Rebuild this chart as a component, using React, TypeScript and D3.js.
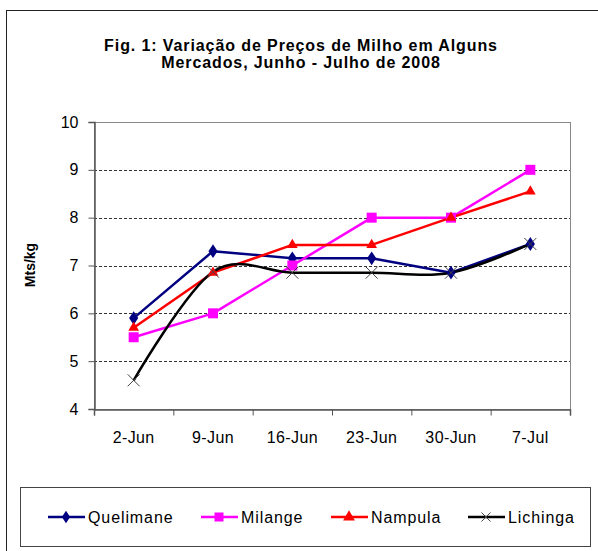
import { useRef, useEffect } from "react";
import * as d3 from "d3";

const categories = ["2-Jun", "9-Jun", "16-Jun", "23-Jun", "30-Jun", "7-Jul"];
const quelimane = [5.9, 7.3, 7.15, 7.15, 6.85, 7.45];
const milange = [5.5, 6.0, 7.0, 8.0, 8.0, 9.0];
const nampula = [5.7, 6.85, 7.43, 7.43, 8.0, 8.55];
const lichinga = [4.6, 6.87, 6.85, 6.85, 6.85, 7.45];
const yTicks = [4, 5, 6, 7, 8, 9, 10];

interface Series {
  name: string;
  values: number[];
  color: string;
  marker: "diamond" | "square" | "triangle" | "x";
  smooth?: boolean;
}

const series: Series[] = [
  { name: "Quelimane", values: quelimane, color: "#000080", marker: "diamond" },
  { name: "Milange", values: milange, color: "#ff00ff", marker: "square" },
  { name: "Nampula", values: nampula, color: "#ff0000", marker: "triangle" },
  { name: "Lichinga", values: lichinga, color: "#000000", marker: "x", smooth: true },
];

const W = 598;
const H = 551;
const font = "'Liberation Sans', Arial, sans-serif";

const drawMarker = (
  g: d3.Selection<SVGGElement, unknown, null, undefined>,
  kind: Series["marker"],
  x: number,
  y: number,
  color: string,
  size: number
) => {
  if (kind === "diamond") {
    g.append("path")
      .attr("d", d3.symbol(d3.symbolDiamond, size * size * 0.55)())
      .attr("transform", `translate(${x},${y}) scale(1.15,1)`)
      .attr("fill", color);
  } else if (kind === "square") {
    g.append("rect")
      .attr("x", x - size / 2)
      .attr("y", y - size / 2)
      .attr("width", size)
      .attr("height", size)
      .attr("fill", color);
  } else if (kind === "triangle") {
    g.append("path")
      .attr("d", d3.symbol(d3.symbolTriangle, size * size * 0.5)())
      .attr("transform", `translate(${x},${y})`)
      .attr("fill", color);
  } else {
    const r = size / 2;
    g.append("path")
      .attr("d", `M${x - r},${y - r}L${x + r},${y + r}M${x - r},${y + r}L${x + r},${y - r}`)
      .attr("stroke", "#444")
      .attr("stroke-width", 1)
      .attr("fill", "none");
  }
};

export default function App() {
  const svgRef = useRef<SVGSVGElement>(null);

  useEffect(() => {
    const svg = d3.select(svgRef.current);
    svg.selectAll("*").remove();

    const left = 94;
    const right = 570;
    const top = 122;
    const bottom = 409;

    const x = d3.scaleBand<string>().domain(categories).range([left, right]);
    const y = d3.scaleLinear().domain([4, 10]).range([bottom, top]);

    svg.append("rect").attr("width", W).attr("height", H).attr("fill", "#fff");

    // outer chart frame (right and bottom edges fall outside the picture)
    svg
      .append("rect")
      .attr("x", 6.5)
      .attr("y", 10.5)
      .attr("width", 620)
      .attr("height", 600)
      .attr("fill", "none")
      .attr("stroke", "#222")
      .attr("stroke-width", 1);

    // title
    const title = svg
      .append("text")
      .attr("text-anchor", "middle")
      .attr("font-family", font)
      .attr("font-weight", "bold")
      .attr("font-size", 16)
      .attr("letter-spacing", 0.9)
      .attr("fill", "#000");
    title.append("tspan").attr("x", 301).attr("y", 51).text("Fig. 1: Variação de Preços de Milho em Alguns");
    title.append("tspan").attr("x", 301).attr("y", 68).text("Mercados, Junho - Julho de 2008");

    // grid lines
    svg
      .append("g")
      .selectAll("line")
      .data(yTicks.filter((t) => t > 4 && t < 10))
      .join("line")
      .attr("x1", left)
      .attr("x2", right)
      .attr("y1", (d) => Math.round(y(d)) + 0.5)
      .attr("y2", (d) => Math.round(y(d)) + 0.5)
      .attr("stroke", "#333")
      .attr("stroke-width", 1)
      .attr("stroke-dasharray", "3,2");

    // plot border
    svg
      .append("rect")
      .attr("x", left + 0.5)
      .attr("y", top + 0.5)
      .attr("width", right - left)
      .attr("height", bottom - top)
      .attr("fill", "none")
      .attr("stroke", "#888");

    // axes
    const yAxis = svg
      .append("g")
      .attr("transform", `translate(${left + 0.5},0)`)
      .call(d3.axisLeft(y).tickValues(yTicks).tickSize(6).tickPadding(10).tickFormat(d3.format("d")));
    const xAxis = svg
      .append("g")
      .attr("transform", `translate(0,${bottom + 0.5})`)
      .call(
        d3
          .axisBottom(d3.scalePoint<string>().domain(["", ...categories]).range([left, right]).padding(0))
          .tickSize(6)
          .tickFormat(() => "")
      );
    xAxis
      .append("g")
      .selectAll("text")
      .data(categories)
      .join("text")
      .attr("x", (d) => x(d)! + x.bandwidth() / 2)
      .attr("y", 33)
      .attr("text-anchor", "middle")
      .attr("font-family", font)
      .attr("font-size", 16)
      .attr("letter-spacing", 0.4)
      .attr("fill", "#000")
      .text((d) => d);
    [yAxis, xAxis].forEach((a) => {
      a.select(".domain").attr("stroke", "#555").attr("stroke-width", 1.5);
      a.selectAll(".tick line").attr("stroke", "#555");
    });
    yAxis.selectAll(".tick text").attr("font-family", font).attr("font-size", 16).attr("fill", "#000");

    // y title
    svg
      .append("text")
      .attr("transform", `translate(35,265) rotate(-90)`)
      .attr("text-anchor", "middle")
      .attr("font-family", font)
      .attr("font-weight", "bold")
      .attr("font-size", 14)
      .text("Mts/kg");

    const cx = (i: number) => x(categories[i])! + x.bandwidth() / 2;

    series.forEach((s) => {
      const line = d3
        .line<number>()
        .x((_, i) => cx(i))
        .y((d) => y(d))
        .curve(s.smooth ? d3.curveCatmullRom.alpha(0) : d3.curveLinear);
      svg
        .append("path")
        .attr("d", line(s.values))
        .attr("fill", "none")
        .attr("stroke", s.color)
        .attr("stroke-width", 2.5)
        .attr("stroke-linejoin", "round");
    });
    series.forEach((s) => {
      const g = svg.append("g");
      s.values.forEach((v, i) => drawMarker(g, s.marker, cx(i), y(v), s.color, s.marker === "x" ? 12 : 10));
    });

    // legend
    svg
      .append("rect")
      .attr("x", 20.5)
      .attr("y", 487.5)
      .attr("width", 570)
      .attr("height", 59)
      .attr("fill", "#fff")
      .attr("stroke", "#444");
    const legendX = [48, 201, 331, 468];
    series.forEach((s, i) => {
      const g = svg.append("g");
      const lx = legendX[i];
      const ly = 517;
      g.append("line")
        .attr("x1", lx)
        .attr("x2", lx + 37)
        .attr("y1", ly)
        .attr("y2", ly)
        .attr("stroke", s.color)
        .attr("stroke-width", 2.5);
      drawMarker(g, s.marker, lx + 18, ly, s.color, s.marker === "triangle" ? 11 : 9);
      g.append("text")
        .attr("x", lx + 40)
        .attr("y", ly + 6)
        .attr("font-family", font)
        .attr("font-size", 16)
        .attr("letter-spacing", 0.9)
        .attr("fill", "#000")
        .text(s.name);
    });
  }, []);

  return (
    <svg
      ref={svgRef}
      width={W}
      height={H}
      style={{ position: "absolute", left: 0, top: 0, display: "block" }}
    ></svg>
  );
}
